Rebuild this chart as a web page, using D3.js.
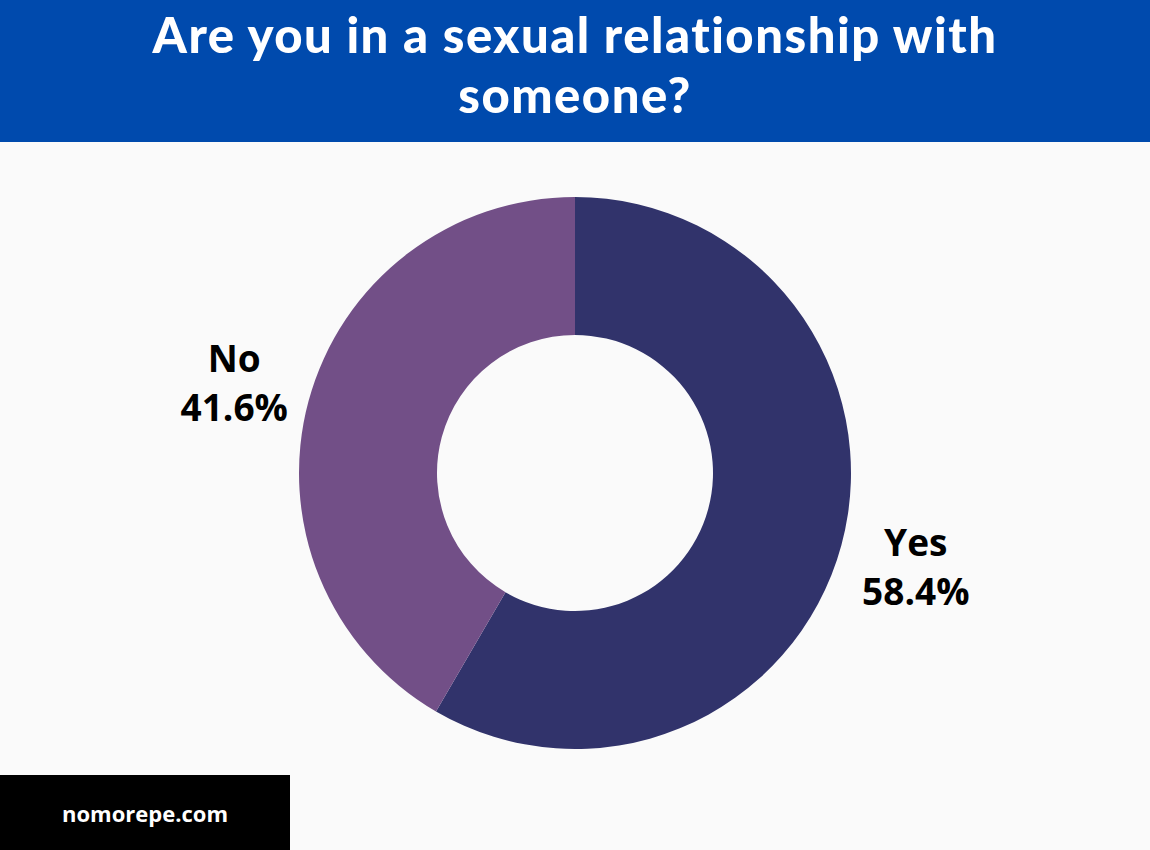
<!DOCTYPE html>
<html><head><meta charset="utf-8">
<script src="https://cdn.jsdelivr.net/npm/d3@7"></script>
<style>html,body{margin:0;padding:0;background:#fafafa;}svg{display:block;}</style>
</head><body>
<svg id="c" width="1150" height="850"></svg>
<script>
const categories = ["Yes", "No"];
const values = [58.4, 41.6];
const colors = ["#31336b", "#724f87"];
const titleLines = ["Are you in a sexual relationship with", "someone?"];

const svg = d3.select("#c");
svg.append("rect").attr("width",1150).attr("height",850).attr("fill","#fafafa");
svg.append("rect").attr("width",1150).attr("height",142).attr("fill","#004aad");
svg.selectAll("text.title").data(titleLines).enter().append("text")
  .attr("x",575).attr("y",(d,i)=>53+i*60).attr("text-anchor","middle")
  .attr("fill","#fff").style("font-family","Lato").style("font-weight",900)
  .style("font-size","49px").style("letter-spacing","1.5px").text(d=>d);

const cx=575, cy=473, R=276, r=138;
const pie = d3.pie().sort(null).value(d=>d);
const arc = d3.arc().innerRadius(r).outerRadius(R);
const g = svg.append("g").attr("transform",`translate(${cx},${cy})`);
const arcs = pie(values);
g.selectAll("path").data(arcs).enter().append("path").attr("d",arc).attr("fill",(d,i)=>colors[i]);

const labelArc = d3.arc().innerRadius(353).outerRadius(353);
const lbl = g.selectAll("g.l").data(arcs).enter().append("g").attr("transform",d=>{
  const [x,y]=labelArc.centroid(d); return `translate(${x},${y})`;});
lbl.append("text").attr("text-anchor","middle").attr("y",-9)
  .style("font-family","Open Sans").style("font-weight",700).style("font-size","37px").attr("fill","#000")
  .text((d,i)=>categories[i]);
lbl.append("text").attr("text-anchor","middle").attr("y",40)
  .style("font-family","Open Sans").style("font-weight",700).style("font-size","37px").attr("fill","#000")
  .text((d,i)=>values[i].toFixed(1)+"%");

svg.append("rect").attr("x",0).attr("y",775).attr("width",290).attr("height",75).attr("fill","#000");
svg.append("text").attr("x",145).attr("y",822).attr("text-anchor","middle").attr("fill","#fff")
  .style("font-family","Open Sans").style("font-weight",700).style("font-size","22px").text("nomorepe.com");
</script>
</body></html>
